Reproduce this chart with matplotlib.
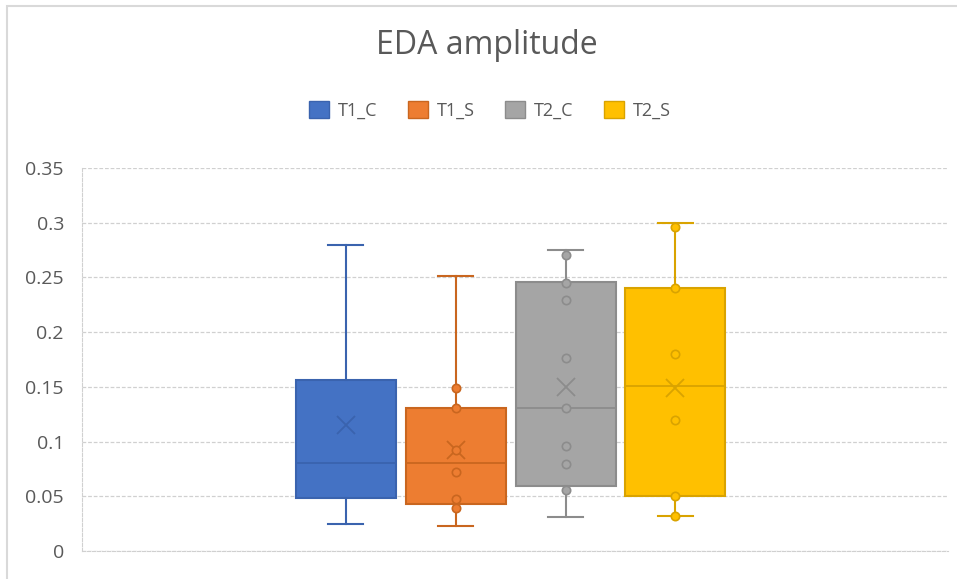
import matplotlib
matplotlib.use("Agg")
import matplotlib.pyplot as plt
from matplotlib.patches import Rectangle, Patch
import numpy as np

plt.rcParams['font.family'] = ['Open Sans', 'DejaVu Sans']

series = ['T1_C', 'T1_S', 'T2_C', 'T2_S']
fills = ['#4472C4', '#ED7D31', '#A5A5A5', '#FFC000']
edges = ['#3A63AE', '#C9661F', '#8C8C8C', '#D9A300']

# box statistics per series
whisker_lo = [0.025, 0.023, 0.031, 0.032]
q1 = [0.048, 0.043, 0.059, 0.050]
median = [0.080, 0.080, 0.131, 0.151]
q3 = [0.156, 0.131, 0.246, 0.240]
whisker_hi = [0.280, 0.251, 0.275, 0.300]
means = [0.115, 0.092, 0.150, 0.149]

# inner points
points_t1_c = []
points_t1_s = [0.149, 0.131, 0.092, 0.072, 0.0475, 0.039]
points_t2_c = [0.2706, 0.245, 0.229, 0.176, 0.131, 0.096, 0.0795, 0.0558]
points_t2_s = [0.296, 0.240, 0.180, 0.120, 0.050, 0.032]
inner_points = [points_t1_c, points_t1_s, points_t2_c, points_t2_s]

yticks = [0, 0.05, 0.1, 0.15, 0.2, 0.25, 0.3, 0.35]
ytick_labels = ['0', '0.05', '0.1', '0.15', '0.2', '0.25', '0.3', '0.35']

fig = plt.figure(figsize=(9.57, 5.79), dpi=100)
ax = fig.add_axes([82 / 957, 28 / 579, 866 / 957, 383 / 579])

positions = np.arange(len(series))
stats = []
for i in range(len(series)):
    stats.append(dict(whislo=whisker_lo[i], q1=q1[i], med=median[i],
                      q3=q3[i], whishi=whisker_hi[i], mean=means[i], fliers=[]))

for i, st in enumerate(stats):
    ax.bxp([st], positions=[positions[i]], widths=0.91, patch_artist=True,
           showmeans=False, showfliers=False,
           boxprops=dict(facecolor=fills[i], edgecolor=edges[i], linewidth=1.5),
           medianprops=dict(color=edges[i], linewidth=1.3),
           whiskerprops=dict(color=edges[i], linewidth=1.5),
           capprops=dict(color=edges[i], linewidth=1.5),
           capwidths=0.32)
    ax.plot(positions[i], means[i], marker='x', color=edges[i],
            markersize=13, markeredgewidth=1.3, zorder=4)
    if inner_points[i]:
        ax.plot(np.full(len(inner_points[i]), positions[i]), inner_points[i],
                linestyle='none', marker='o', markersize=6,
                markerfacecolor=fills[i], markeredgecolor=edges[i],
                markeredgewidth=1.2, zorder=5)

ax.set_xlim(-2.4, 5.48)
ax.set_ylim(0, 0.35)
ax.set_yticks(yticks)
ax.set_yticklabels(ytick_labels, fontsize=14, color='#595959')
ax.set_xticks([])
ax.tick_params(axis='y', length=0, pad=13)
ax.yaxis.grid(True, color='#D0D0D0', linestyle=(0, (3, 1.5)), linewidth=0.9)
ax.set_axisbelow(True)
for side in ['top', 'right']:
    ax.spines[side].set_visible(False)
ax.spines['left'].set_color('#D0D0D0')
ax.spines['left'].set_linestyle((0, (3, 1.5)))
ax.spines['bottom'].set_color('#D0D0D0')
ax.spines['bottom'].set_linestyle((0, (3, 1.5)))

fig.text(487 / 957, 1 - 45 / 579, 'EDA amplitude', ha='center', va='center',
         fontsize=23, color='#595959')

handles = [Patch(facecolor=fills[i], edgecolor=edges[i], linewidth=1.0)
           for i in range(len(series))]
fig.legend(handles, series, loc='center', bbox_to_anchor=(490 / 957, 1 - 110 / 579),
           ncol=4, frameon=False, fontsize=13, labelcolor='#595959',
           handlelength=1.1, handleheight=1.1, handletextpad=0.5, columnspacing=1.7)

# chart area border
fig.add_artist(Rectangle((7 / 957, -0.1), 1.1, 1 - 6 / 579 + 0.1,
                         transform=fig.transFigure, fill=False,
                         edgecolor='#D9D9D9', linewidth=1.5))

fig.savefig('out.png', dpi=100)
